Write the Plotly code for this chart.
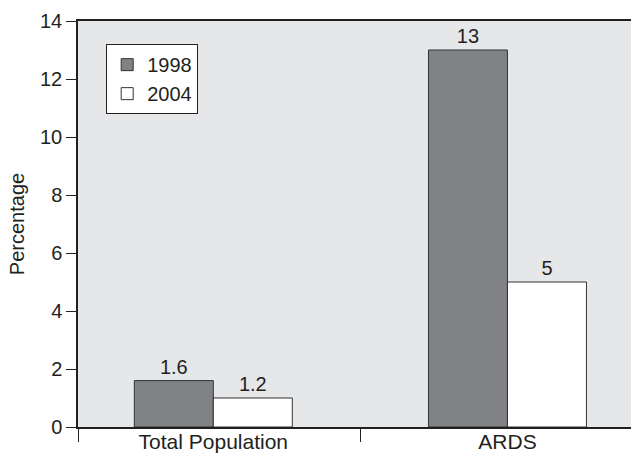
import plotly.graph_objects as go

categories = ["Total Population", "ARDS"]
values_1998 = [1.6, 13]
values_2004 = [1.0, 5]
labels_1998 = ["1.6", "13"]
labels_2004 = ["1.2", "5"]
y_ticks = [0, 2, 4, 6, 8, 10, 12, 14]

FONT = "Liberation Sans, Arial, sans-serif"
x_pos = list(range(len(categories)))

fig = go.Figure()
fig.add_trace(go.Bar(
    x=x_pos, y=values_1998, name="1998", text=labels_1998,
    textposition="outside", cliponaxis=False,
    marker=dict(color="#808285", line=dict(color="#333333", width=1)),
    textfont=dict(size=20, color="#231f20"),
))
fig.add_trace(go.Bar(
    x=x_pos, y=values_2004, name="2004", text=labels_2004,
    textposition="outside", cliponaxis=False,
    marker=dict(color="#ffffff", line=dict(color="#333333", width=1)),
    textfont=dict(size=20, color="#231f20"),
))
# invisible trace for category labels on overlay axis
fig.add_trace(go.Scatter(x=x_pos, y=[0, 0], xaxis="x2", mode="markers",
                         marker=dict(opacity=0), showlegend=False, hoverinfo="skip"))

xr = [-0.46, 1.42]
fig.update_layout(
    width=631, height=460,
    margin=dict(l=78, r=0, t=21, b=33),
    paper_bgcolor="white", plot_bgcolor="#e6e7e9",
    font=dict(family=FONT, size=20, color="#231f20"),
    barmode="group", bargap=0.463, bargroupgap=0,
    showlegend=True,
    legend=dict(x=0.051, y=0.943, xanchor="left", yanchor="top",
                bgcolor="white", bordercolor="#231f20", borderwidth=1,
                font=dict(size=20), traceorder="normal",
                itemwidth=30, tracegroupgap=0),
    xaxis=dict(range=xr, tickvals=[xr[0], 0.5], ticktext=["", ""],
               ticks="outside", ticklen=13, tickcolor="#231f20",
               showline=True, linecolor="#231f20", linewidth=1.5, mirror=True,
               showgrid=False, zeroline=False),
    xaxis2=dict(range=xr, overlaying="x", side="bottom", tickvals=x_pos,
                ticktext=categories, ticks="", showline=False, showgrid=False,
                zeroline=False, tickfont=dict(size=21)),
    yaxis=dict(range=[0, 14], tickvals=y_ticks, ticks="outside", ticklen=10,
               tickcolor="#231f20", showline=True, linecolor="#231f20",
               linewidth=1.5, showgrid=False, zeroline=False,
               title=dict(text="Percentage", font=dict(size=20), standoff=10),
               tickfont=dict(size=20)),
)

fig.write_html("out.html",
               config={"displayModeBar": False},
               post_script="document.body.style.margin='0';"
                           "document.body.style.overflow='hidden';")
